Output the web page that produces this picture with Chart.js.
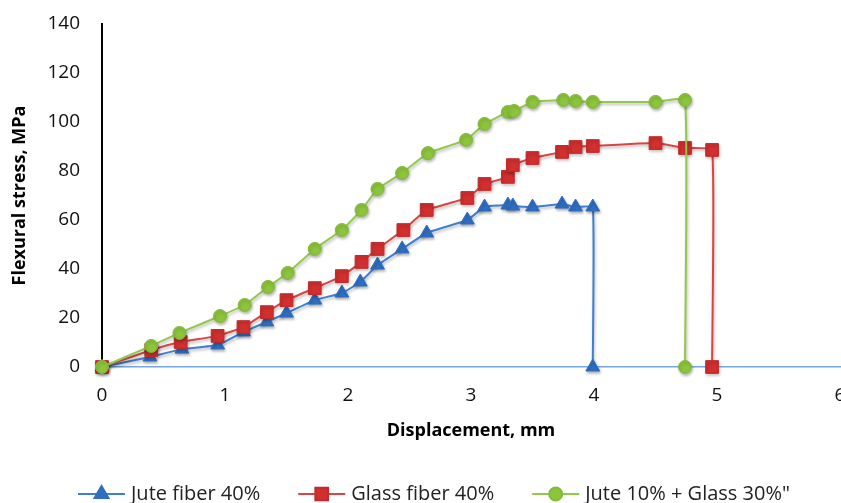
<!DOCTYPE html>
<html>
<head>
<meta charset="utf-8">
<script src="https://cdn.jsdelivr.net/npm/chart.js@4.4.1/dist/chart.umd.min.js"></script>
<style>
  html, body { margin: 0; padding: 0; background: #fff; overflow: hidden; }
  #wrap { width: 841px; height: 503px; overflow: hidden; position: relative; }
  canvas { display: block; }
</style>
</head>
<body>
<div id="wrap"><canvas id="c" width="860" height="503"></canvas></div>
<script>
// ---- data ----
const seriesNames = ['Jute fiber 40%', 'Glass fiber 40%', 'Jute 10% + Glass 30%"'];

const xJute  = [0, 0.39, 0.65, 0.94, 1.15, 1.34, 1.50, 1.73, 1.95, 2.10, 2.24, 2.44, 2.64, 2.97, 3.11, 3.30, 3.34, 3.50, 3.74, 3.85, 3.99, 3.99];
const yJute  = [0, 4.1, 7.3, 9.0, 14.3, 18.4, 22.0, 27.3, 30.2, 34.7, 41.6, 48.2, 54.7, 60.0, 65.3, 66.1, 65.7, 65.3, 66.5, 65.3, 65.3, 0];

const xGlass = [0, 0.40, 0.64, 0.94, 1.15, 1.34, 1.50, 1.73, 1.95, 2.11, 2.24, 2.45, 2.64, 2.97, 3.11, 3.30, 3.34, 3.50, 3.74, 3.85, 3.99, 4.50, 4.74, 4.96, 4.96];
const yGlass = [0, 6.9, 10.2, 12.7, 16.3, 22.4, 27.3, 32.2, 37.1, 42.9, 48.2, 55.9, 64.1, 69.0, 74.7, 77.6, 82.4, 85.3, 87.8, 89.8, 90.2, 91.4, 89.4, 88.6, 0];

const xHybrid = [0, 0.40, 0.63, 0.96, 1.16, 1.35, 1.51, 1.73, 1.95, 2.11, 2.24, 2.44, 2.65, 2.96, 3.11, 3.30, 3.35, 3.50, 3.75, 3.85, 3.99, 4.50, 4.74, 4.74];
const yHybrid = [0, 8.6, 13.9, 20.8, 25.3, 32.7, 38.4, 48.2, 55.9, 64.1, 72.7, 79.2, 87.3, 92.7, 99.2, 104.1, 104.5, 108.2, 109.0, 108.6, 108.2, 108.2, 109.0, 0];

const xTicks = [0, 1, 2, 3, 4, 5, 6];
const yTicks = [0, 20, 40, 60, 80, 100, 120, 140];

const xTitle = 'Displacement, mm';
const yTitle = 'Flexural stress, MPa';

function pts(xs, ys) { return xs.map((x, i) => ({ x: x, y: ys[i] })); }

const FONT = "'Open Sans', 'DejaVu Sans', sans-serif";

const shadowPlugin = {
  id: 'shadow',
  beforeDatasetsDraw(chart) {
    const ctx = chart.ctx;
    ctx.save();
    ctx.shadowColor = 'rgba(0,0,0,0.28)';
    ctx.shadowBlur = 3;
    ctx.shadowOffsetX = 1;
    ctx.shadowOffsetY = 2;
  },
  afterDatasetsDraw(chart) { chart.ctx.restore(); }
};

const legendPlugin = {
  id: 'customLegend',
  afterDraw(chart) {
    const ctx = chart.ctx;
    const ds = chart.data.datasets;
    const yc = 494;
    let x = 78;
    const lineLen = 47;
    ctx.save();
    ctx.font = '20px ' + FONT;
    ctx.textBaseline = 'middle';
    ctx.textAlign = 'left';
    ds.forEach((d) => {
      ctx.strokeStyle = d.borderColor;
      ctx.lineWidth = 2;
      ctx.beginPath();
      ctx.moveTo(x, yc);
      ctx.lineTo(x + lineLen, yc);
      ctx.stroke();
      ctx.fillStyle = d.pointBackgroundColor;
      ctx.strokeStyle = d.pointBorderColor;
      Chart.helpers.drawPoint(ctx, {
        pointStyle: d.pointStyle,
        rotation: 0,
        radius: d.legendRadius,
        borderWidth: 1
      }, x + lineLen / 2, yc);
      ctx.fillStyle = '#222';
      const tx = x + lineLen + 6;
      ctx.fillText(d.label, tx, yc);
      x = tx + ctx.measureText(d.label).width + 38;
    });
    ctx.restore();
  }
};

new Chart(document.getElementById('c'), {
  type: 'scatter',
  data: {
    datasets: [
      {
        label: seriesNames[0],
        data: pts(xJute, yJute),
        showLine: true,
        borderColor: '#3f7fcf',
        borderWidth: 2,
        pointStyle: 'triangle',
        pointRadius: 8,
        legendRadius: 8,
        pointBackgroundColor: '#2f6ec0',
        pointBorderColor: '#2f6ec0',
        pointBorderWidth: 1,
        tension: 0.12,
        clip: false,
        order: 2
      },
      {
        label: seriesNames[1],
        data: pts(xGlass, yGlass),
        showLine: true,
        borderColor: '#d94545',
        borderWidth: 2,
        pointStyle: 'rect',
        pointRadius: 9,
        legendRadius: 9,
        pointBackgroundColor: '#d22f2f',
        pointBorderColor: '#c42a2a',
        pointBorderWidth: 1,
        tension: 0.12,
        clip: false,
        order: 1
      },
      {
        label: seriesNames[2],
        data: pts(xHybrid, yHybrid),
        showLine: true,
        borderColor: '#93c94a',
        borderWidth: 2,
        pointStyle: 'circle',
        pointRadius: 6.5,
        legendRadius: 6.5,
        pointBackgroundColor: '#8cc43c',
        pointBorderColor: '#84bb38',
        pointBorderWidth: 1,
        tension: 0.12,
        clip: false,
        order: 0
      }
    ]
  },
  options: {
    responsive: false,
    animation: false,
    events: [],
    layout: { padding: { left: 9.2, right: 20, top: 24, bottom: 61.2 } },
    plugins: {
      legend: { display: false },
      tooltip: { enabled: false }
    },
    scales: {
      x: {
        type: 'linear',
        min: xTicks[0],
        max: xTicks[xTicks.length - 1],
        afterBuildTicks(scale) { scale.ticks = xTicks.map(v => ({ value: v })); },
        afterFit(scale) {
          scale.height = 74.8;
          scale.paddingLeft = 0; scale.paddingRight = 0;
          scale.paddingTop = 0; scale.paddingBottom = 0;
        },
        grid: { display: false, drawTicks: false },
        border: { display: true, color: '#74a8e0', width: 1.5 },
        ticks: { padding: 17, color: '#111', font: { family: FONT, size: 19 } },
        title: {
          display: true, text: xTitle, color: '#000',
          padding: { top: 0, bottom: 0 },
          font: { family: FONT, size: 18, weight: 'bold' }
        }
      },
      y: {
        type: 'linear',
        min: yTicks[0],
        max: yTicks[yTicks.length - 1],
        afterBuildTicks(scale) { scale.ticks = yTicks.map(v => ({ value: v })); },
        afterFit(scale) {
          scale.width = 92.8;
          scale.paddingLeft = 0; scale.paddingRight = 0;
          scale.paddingTop = 0; scale.paddingBottom = 0;
        },
        grid: { display: false, drawTicks: false },
        border: { display: true, color: '#000', width: 2 },
        ticks: { padding: 22, color: '#111', font: { family: FONT, size: 19 } },
        title: {
          display: true, text: yTitle, color: '#000',
          padding: { top: 0, bottom: 0 },
          font: { family: FONT, size: 18, weight: 'bold' }
        }
      }
    }
  },
  plugins: [shadowPlugin, legendPlugin]
});
</script>
</body>
</html>
